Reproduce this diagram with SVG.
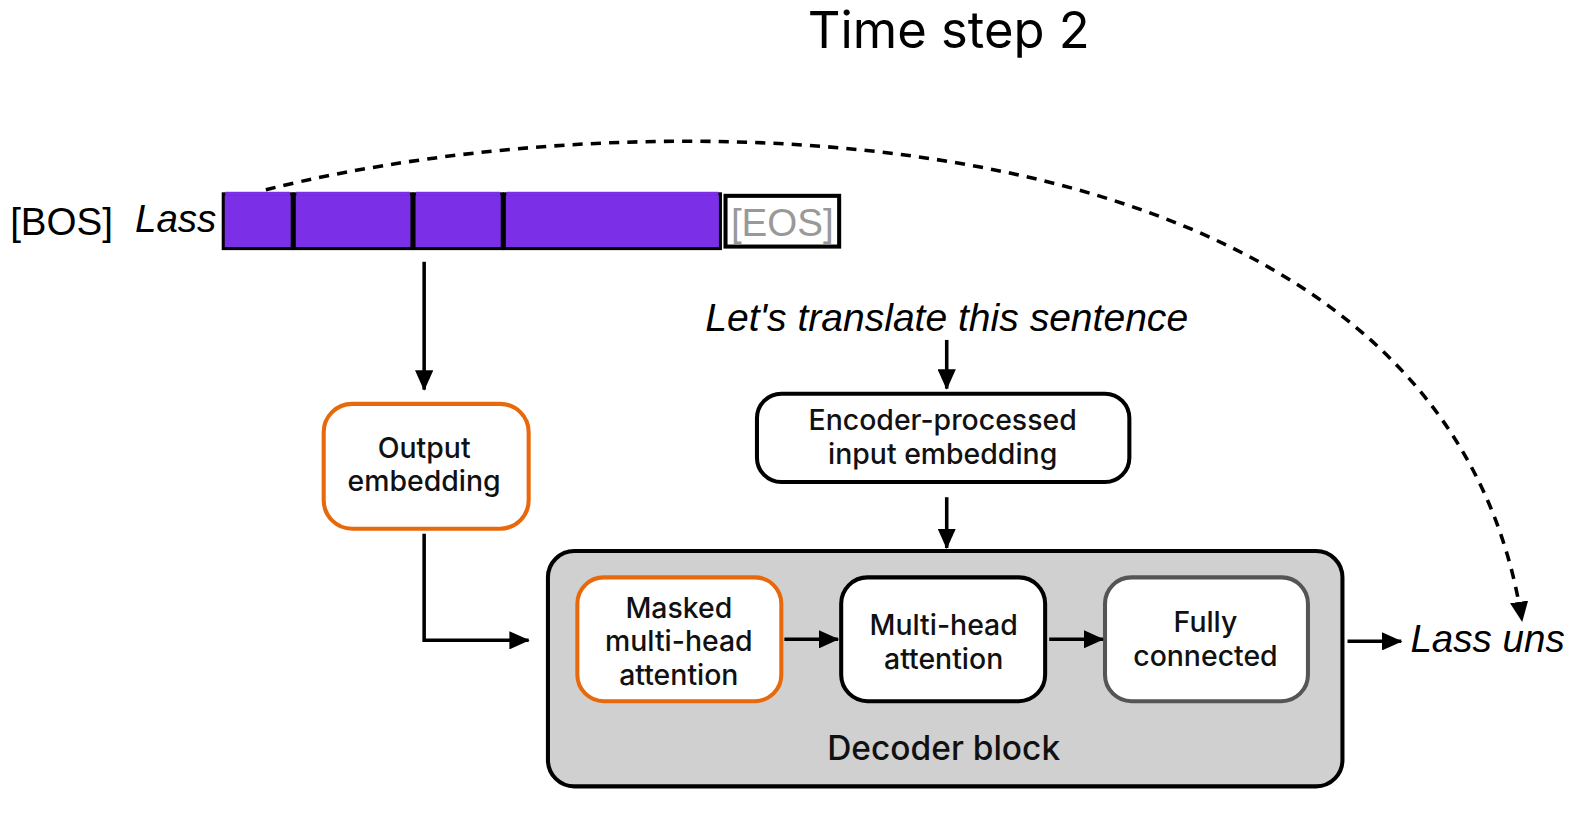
<svg xmlns="http://www.w3.org/2000/svg" width="1591" height="815" viewBox="0 0 1591 815">
<defs>
<marker id="ah" markerUnits="userSpaceOnUse" markerWidth="20" markerHeight="18" viewBox="0 0 20 18" refX="19" refY="9" orient="auto">
<path d="M0,0 L20,9 L0,18 Z" fill="#000"/>
</marker>
<style>
.node{fill:#fff;stroke-width:4}
.lbl{font-family:Inter,"Noto Sans",sans-serif;font-size:28px;font-weight:500;fill:#111;text-anchor:middle}
.ital{font-family:"Liberation Sans",Arial,sans-serif;font-style:italic;font-size:38px;fill:#000}
.conn{fill:none;stroke:#000;stroke-width:3.5}
.tok{fill:#7b2fe6;stroke:#000;stroke-width:3}
</style>
</defs>
<rect width="1591" height="815" fill="#fff"/>
<g transform="scale(1.0147)">
<text x="935" y="47" font-family="Inter,'Noto Sans',sans-serif" font-size="50" text-anchor="middle" fill="#000">Time step 2</text>

<g id="tokens">
<text x="10" y="232" font-family="'Liberation Sans',Arial,sans-serif" font-size="38" fill="#000">[BOS]</text>
<text x="133" y="229" class="ital">Lass</text>
<rect class="tok" x="220" y="191" width="68" height="54"/>
<rect class="tok" x="290" y="191" width="116" height="54"/>
<rect class="tok" x="408" y="191" width="87" height="54"/>
<rect class="tok" x="497" y="191" width="213" height="54"/>
<rect x="222" y="189" width="64" height="4" fill="#7b2fe6"/>
<rect x="292" y="189" width="112" height="4" fill="#7b2fe6"/>
<rect x="410" y="189" width="83" height="4" fill="#7b2fe6"/>
<rect x="499" y="189" width="209" height="4" fill="#7b2fe6"/>
<rect x="715" y="193" width="112" height="50" fill="#fff" stroke="#000" stroke-width="4"/>
<text x="771" y="233" font-family="'Liberation Sans',Arial,sans-serif" font-size="38" fill="#999" text-anchor="middle">[EOS]</text>
</g>

<g id="output-embedding">
<rect class="node" x="319" y="398" width="202" height="123" rx="28" stroke="#e8690b"/>
<text class="lbl" x="418" y="451">Output</text>
<text class="lbl" x="418" y="484">embedding</text>
</g>

<g id="source-sentence">
<text x="933" y="326" class="ital" text-anchor="middle" style="font-size:38.5px">Let's translate this sentence</text>
</g>

<g id="encoder-embedding">
<rect class="node" x="746" y="388" width="367" height="87" rx="24" stroke="#000"/>
<text class="lbl" x="929" y="424">Encoder-processed</text>
<text class="lbl" x="929" y="457">input embedding</text>
</g>

<g id="decoder-block">
<rect x="540" y="543" width="783" height="232" rx="26" fill="#d0d0d0" stroke="#000" stroke-width="4"/>
<text x="930" y="749" font-family="Inter,'Noto Sans',sans-serif" font-size="33" font-weight="500" text-anchor="middle" fill="#111">Decoder block</text>
</g>

<g id="masked-attention">
<rect class="node" x="569" y="569" width="201" height="122" rx="26" stroke="#e8690b"/>
<text class="lbl" x="669" y="609">Masked</text>
<text class="lbl" x="669" y="642">multi-head</text>
<text class="lbl" x="669" y="675">attention</text>
</g>

<g id="multi-head-attention">
<rect class="node" x="829" y="569" width="201" height="122" rx="26" stroke="#000"/>
<text class="lbl" x="930" y="626">Multi-head</text>
<text class="lbl" x="930" y="659">attention</text>
</g>

<g id="fully-connected">
<rect class="node" x="1089" y="569" width="200" height="122" rx="26" stroke="#555"/>
<text class="lbl" x="1188" y="623">Fully</text>
<text class="lbl" x="1188" y="656">connected</text>
</g>

<g id="output-text">
<text x="1390" y="643" class="ital">Lass uns</text>
</g>

<g id="connectors">
<path class="conn" d="M418,258 L418,384" marker-end="url(#ah)"/>
<path class="conn" d="M418,526 L418,631 L521,631" marker-end="url(#ah)"/>
<path class="conn" d="M933,335 L933,383" marker-end="url(#ah)"/>
<path class="conn" d="M933,490 L933,540" marker-end="url(#ah)"/>
<path class="conn" d="M773,630 L826,630" marker-end="url(#ah)"/>
<path class="conn" d="M1034,630 L1087,630" marker-end="url(#ah)"/>
<path class="conn" d="M1328,632 L1381,632" marker-end="url(#ah)"/>
<path class="conn" d="M262,187 C640,92 1420,95 1500,612" stroke-width="5" stroke-dasharray="10,8" marker-end="url(#ah)"/>
</g>
</g>
</svg>
